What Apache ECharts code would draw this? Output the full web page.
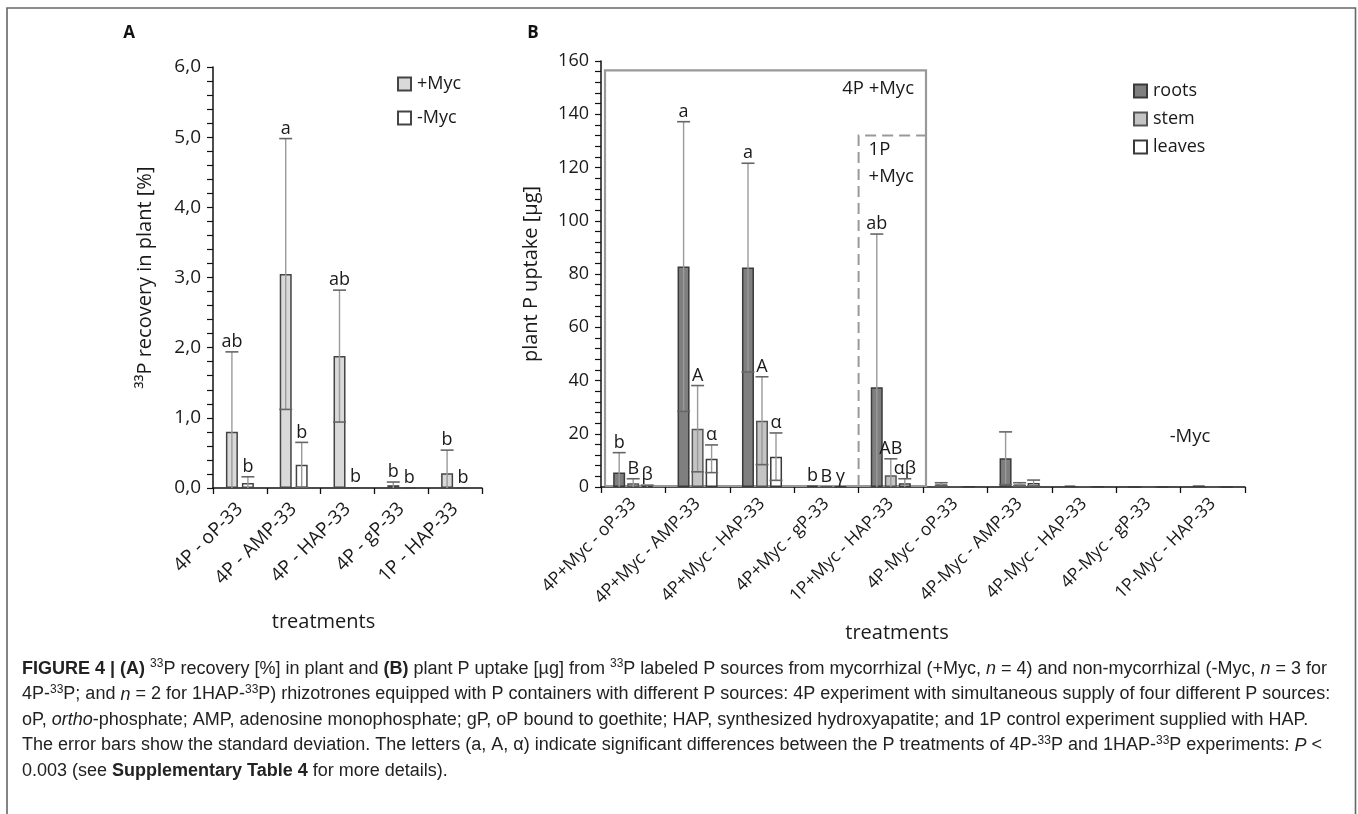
<!DOCTYPE html>
<html><head><meta charset="utf-8">
<script src="https://cdn.jsdelivr.net/npm/echarts@6/dist/echarts.min.js"></script>
<style>html,body{margin:0;padding:0;background:#fff}#c{width:1358px;height:814px}</style>
</head><body><div id="c"></div>
<script>
// ---------- Panel A data ----------
const catsA = ['4P - oP-33', '4P - AMP-33', '4P - HAP-33', '4P - gP-33', '1P - HAP-33'];
const plusMyc = [0.80, 3.05, 1.88, 0.04, 0.21];
const plusMycSD = [1.14, 1.93, 0.94, 0.045, 0.33];
const minusMyc = [0.07, 0.33, 0.01, 0, 0];
const minusMycSD = [0.09, 0.32, 0, 0, 0];
const plusMycLetters = ['ab', 'a', 'ab', 'b', 'b'];
const minusMycLetters = ['b', 'b', 'b', 'b', 'b'];
const ticksA = ['0,0', '1,0', '2,0', '3,0', '4,0', '5,0', '6,0'];

// ---------- Panel B data ----------
const catsB = ['4P+Myc - oP-33', '4P+Myc - AMP-33', '4P+Myc - HAP-33', '4P+Myc - gP-33', '1P+Myc - HAP-33',
  '4P-Myc - oP-33', '4P-Myc - AMP-33', '4P-Myc - HAP-33', '4P-Myc - gP-33', '1P-Myc - HAP-33'];
const roots = [5.4, 82.8, 82.4, 0.5, 37.5, 1.0, 10.8, 0.5, 0, 0.6];
const rootsSD = [7.5, 54.4, 39.2, 0, 57.5, 0.6, 9.9, 0, 0, 0];
const stem = [1.4, 21.9, 24.9, 0.1, 4.4, 0.2, 1.0, 0.2, 0, 0];
const stemSD = [1.7, 16.2, 16.5, 0, 6.2, 0, 0.6, 0, 0, 0];
const leaves = [0.3, 10.6, 11.4, 0.1, 1.4, 0.1, 1.5, 0.2, 0, 0];
const leavesSD = [0.4, 5.2, 8.9, 0, 1.7, 0, 1.1, 0, 0, 0];
const rootsLetters = ['b', 'a', 'a', 'b', 'ab', '', '', '', '', ''];
const stemLetters = ['B', 'A', 'A', 'B', 'AB', '', '', '', '', ''];
const leavesLetters = ['β', 'α', 'α', 'γ', 'αβ', '', '', '', '', ''];
const box4PTop = 156.5;
const box1PTop = 132;

const FONT = 'Open Sans';
const chart = echarts.init(document.getElementById('c'));

function errSeries(name, xi, yi, means, sds, letters, offset, capW) {
  return {
    type: 'custom', name: name, xAxisIndex: xi, yAxisIndex: yi, z: 5,
    data: means.map((m, i) => [i, m]),
    renderItem: function (params, api) {
      const i = params.dataIndex;
      const m = means[i], sd = sds[i];
      const children = [];
      const base = api.coord([i, m]);
      const cx = base[0] + offset;
      let topY = base[1];
      if (sd > 0) {
        const t = api.coord([i, m + sd]);
        const lowV = Math.max(0, m - sd);
        const l = api.coord([i, lowV]);
        topY = t[1];
        children.push({ type: 'line', shape: { x1: cx, y1: t[1], x2: cx, y2: l[1] }, style: { stroke: '#9a9a9a', lineWidth: 1.4 } });
        children.push({ type: 'line', shape: { x1: cx - capW / 2, y1: t[1], x2: cx + capW / 2, y2: t[1] }, style: { stroke: '#666', lineWidth: 1.6 } });
        if (m - sd > 0) {
          children.push({ type: 'line', shape: { x1: cx - capW / 2, y1: l[1], x2: cx + capW / 2, y2: l[1] }, style: { stroke: '#666', lineWidth: 1.6 } });
        }
      }
      if (letters[i]) {
        children.push({ type: 'text', x: cx, y: topY - 1, style: { text: letters[i], textAlign: 'center', textVerticalAlign: 'bottom', fontFamily: FONT, fontSize: 18, fill: '#1a1a1a' } });
      }
      return { type: 'group', children: children };
    }
  };
}

const option = {
  animation: false,
  backgroundColor: '#fff',
  textStyle: { fontFamily: FONT },
  grid: [
    { left: 213, top: 67, width: 269, height: 421 },
    { left: 601, top: 61, width: 644, height: 426 }
  ],
  legend: [
    { data: ['+Myc', '-Myc'], orient: 'vertical', left: 392, top: 70, itemWidth: 13, itemHeight: 13, itemGap: 16,
      icon: 'rect', textStyle: { fontFamily: FONT, fontSize: 18, color: '#1a1a1a', padding: [0, 0, 0, 1] } },
    { data: ['roots', 'stem', 'leaves'], orient: 'vertical', left: 1128, top: 77, itemWidth: 13, itemHeight: 13, itemGap: 10,
      icon: 'rect', textStyle: { fontFamily: FONT, fontSize: 18, color: '#1a1a1a', padding: [0, 0, 0, 1] } }
  ],
  xAxis: [
    { type: 'category', gridIndex: 0, data: catsA,
      axisLine: { lineStyle: { color: '#111', width: 1.5 } },
      axisTick: { show: true, length: 6, lineStyle: { color: '#111', width: 1.3 } },
      axisLabel: { rotate: 45, margin: 18, fontFamily: FONT, fontSize: 19, color: '#1a1a1a' },
      name: 'treatments', nameLocation: 'middle', nameGap: 124,
      nameTextStyle: { fontFamily: FONT, fontSize: 20, color: '#1a1a1a', padding: [0, 48, 0, 0] } },
    { type: 'category', gridIndex: 1, data: catsB,
      axisLine: { lineStyle: { color: '#111', width: 1.5 } },
      axisTick: { show: true, length: 6, lineStyle: { color: '#111', width: 1.3 } },
      axisLabel: { rotate: 45, margin: 14, fontFamily: FONT, fontSize: 17.5, color: '#1a1a1a' },
      name: 'treatments', nameLocation: 'middle', nameGap: 136,
      nameTextStyle: { fontFamily: FONT, fontSize: 20, color: '#1a1a1a', padding: [0, 52, 0, 0] } }
  ],
  yAxis: [
    { type: 'value', gridIndex: 0, min: 0, max: 6, interval: 1,
      axisLine: { show: true, lineStyle: { color: '#111', width: 1.5 } },
      axisTick: { show: true, length: 6, lineStyle: { color: '#111', width: 1.2 } },
      minorTick: { show: true, splitNumber: 5, length: 6, lineStyle: { color: '#111', width: 1.2 } },
      splitLine: { show: false },
      axisLabel: { margin: 12, fontFamily: FONT, fontSize: 19, color: '#1a1a1a', formatter: v => ticksA[Math.round(v)] },
      name: '³³P recovery in plant [%]', nameLocation: 'middle', nameGap: 58, nameRotate: 90,
      nameTextStyle: { fontFamily: FONT, fontSize: 20, color: '#1a1a1a' } },
    { type: 'value', gridIndex: 1, min: 0, max: 160, interval: 20,
      axisLine: { show: true, lineStyle: { color: '#111', width: 1.5 } },
      axisTick: { show: true, length: 6, lineStyle: { color: '#111', width: 1.2 } },
      minorTick: { show: true, splitNumber: 5, length: 6, lineStyle: { color: '#111', width: 1.2 } },
      splitLine: { show: false },
      axisLabel: { margin: 12, fontFamily: FONT, fontSize: 18, color: '#1a1a1a' },
      name: 'plant P uptake [µg]', nameLocation: 'middle', nameGap: 60, nameRotate: 90,
      nameTextStyle: { fontFamily: FONT, fontSize: 20, color: '#1a1a1a' } }
  ],
  series: [
    { type: 'bar', name: '+Myc', xAxisIndex: 0, yAxisIndex: 0, data: plusMyc, barWidth: 12, barGap: '33%',
      itemStyle: { color: '#d9d9d9', borderColor: '#444', borderWidth: 1.5 } },
    { type: 'bar', name: '-Myc', xAxisIndex: 0, yAxisIndex: 0, data: minusMyc, barWidth: 12, barGap: '33%',
      itemStyle: { color: '#ffffff', borderColor: '#444', borderWidth: 1.5 } },
    errSeries('errPlus', 0, 0, plusMyc, plusMycSD, plusMycLetters, -8, 13),
    errSeries('errMinus', 0, 0, minusMyc, minusMycSD, minusMycLetters, 8, 13),

    { type: 'bar', name: 'roots', xAxisIndex: 1, yAxisIndex: 1, data: roots, barWidth: 12, barGap: '17%',
      itemStyle: { color: '#7f7f7f', borderColor: '#3a3a3a', borderWidth: 1.5 } },
    { type: 'bar', name: 'stem', xAxisIndex: 1, yAxisIndex: 1, data: stem, barWidth: 12, barGap: '17%',
      itemStyle: { color: '#c4c4c4', borderColor: '#555', borderWidth: 1.5 } },
    { type: 'bar', name: 'leaves', xAxisIndex: 1, yAxisIndex: 1, data: leaves, barWidth: 12, barGap: '17%',
      itemStyle: { color: '#ffffff', borderColor: '#3a3a3a', borderWidth: 1.5 } },
    errSeries('errRoots', 1, 1, roots, rootsSD, rootsLetters, -14, 13),
    errSeries('errStem', 1, 1, stem, stemSD, stemLetters, 0, 13),
    errSeries('errLeaves', 1, 1, leaves, leavesSD, leavesLetters, 14, 13)
  ]
};
chart.setOption(option);

// annotation boxes and texts, positioned through the axes
const toPx = (c, v) => chart.convertToPixel({ xAxisIndex: 1, yAxisIndex: 1 }, [c, v]);
const band = toPx(1, 0)[0] - toPx(0, 0)[0];
const x0 = toPx(0, 0)[0] - band / 2 + 4;
const x4L = toPx(4, 0)[0] - band / 2;
const x4R = toPx(4, 0)[0] + band / 2 + 3;
const yBase = toPx(0, 0)[1] - 1;
const y4P = toPx(0, box4PTop)[1];
const y1P = toPx(0, box1PTop)[1];

const CAPF = 'Liberation Sans';
const CAPS = 18;
const rich = {
  b: { fontFamily: CAPF, fontSize: CAPS, fontWeight: 'bold', color: '#222', lineHeight: 22 },
  i: { fontFamily: CAPF, fontSize: CAPS, fontStyle: 'italic', color: '#222', lineHeight: 22 },
  n: { fontFamily: CAPF, fontSize: CAPS, color: '#222', lineHeight: 22 },
  s: { fontFamily: CAPF, fontSize: 12, color: '#222', verticalAlign: 'top', lineHeight: 12 }
};
const capLines = [
  '{b|FIGURE 4 | (A)}{n| }{s|33}{n|P recovery [%] in plant and }{b|(B)}{n| plant P uptake [µg] from }{s|33}{n|P labeled P sources from mycorrhizal (+Myc, }{i|n}{n| = 4) and non-mycorrhizal (-Myc, }{i|n}{n| = 3 for}',
  '{n|4P-}{s|33}{n|P; and }{i|n}{n| = 2 for 1HAP-}{s|33}{n|P) rhizotrones equipped with P containers with different P sources: 4P experiment with simultaneous supply of four different P sources:}',
  '{n|oP, }{i|ortho}{n|-phosphate; AMP, adenosine monophosphate; gP, oP bound to goethite; HAP, synthesized hydroxyapatite; and 1P control experiment supplied with HAP.}',
  '{n|The error bars show the standard deviation. The letters (a, A, α) indicate significant differences between the P treatments of 4P-}{s|33}{n|P and 1HAP-}{s|33}{n|P experiments: }{i|P}{n| <}',
  '{n|0.003 (see }{b|Supplementary Table 4}{n| for more details).}'
];
const capY = [669, 694.5, 720, 745.5, 771];

const graphics = [
  { type: 'rect', shape: { x: 7, y: 8, width: 1348.5, height: 830 }, style: { fill: 'none', stroke: '#666', lineWidth: 1.6 }, z: 0 },
  { type: 'text', x: 129, y: 33, style: { text: 'A', fontFamily: FONT, fontWeight: 'bold', fontSize: 17, fill: '#111', textAlign: 'center', textVerticalAlign: 'middle' } },
  { type: 'text', x: 533, y: 33, style: { text: 'B', fontFamily: FONT, fontWeight: 'bold', fontSize: 17, fill: '#111', textAlign: 'center', textVerticalAlign: 'middle' } },
  // solid 4P +Myc box
  { type: 'polyline', shape: { points: [[x0, yBase], [x0, y4P], [x4R, y4P], [x4R, yBase], [x0, yBase]] }, style: { stroke: '#999', lineWidth: 2.2, fill: 'none' }, z: 1 },
  // dashed 1P +Myc box
  { type: 'polyline', shape: { points: [[x4L, yBase], [x4L, y1P], [x4R, y1P]] }, style: { stroke: '#999', lineWidth: 2, fill: 'none', lineDash: [11, 6] }, z: 1 },
  { type: 'text', x: x4R - 12, y: y4P + 18, style: { text: '4P +Myc', fontFamily: FONT, fontSize: 18.5, fill: '#1a1a1a', textAlign: 'right', textVerticalAlign: 'middle' } },
  { type: 'text', x: x4L + 10, y: y1P + 14, style: { text: '1P', fontFamily: FONT, fontSize: 18.5, fill: '#1a1a1a', textAlign: 'left', textVerticalAlign: 'middle' } },
  { type: 'text', x: x4L + 10, y: y1P + 41, style: { text: '+Myc', fontFamily: FONT, fontSize: 18.5, fill: '#1a1a1a', textAlign: 'left', textVerticalAlign: 'middle' } },
  { type: 'text', x: 1190, y: 437, style: { text: '-Myc', fontFamily: FONT, fontSize: 18.5, fill: '#1a1a1a', textAlign: 'center', textVerticalAlign: 'middle' } }
];
capLines.forEach((t, k) => {
  graphics.push({ type: 'text', x: 22, y: capY[k], style: { text: t, rich: rich, fontFamily: CAPF, fontSize: CAPS, fill: '#222', textAlign: 'left', textVerticalAlign: 'middle' } });
});
chart.setOption({ graphic: graphics });
</script>
</body></html>
